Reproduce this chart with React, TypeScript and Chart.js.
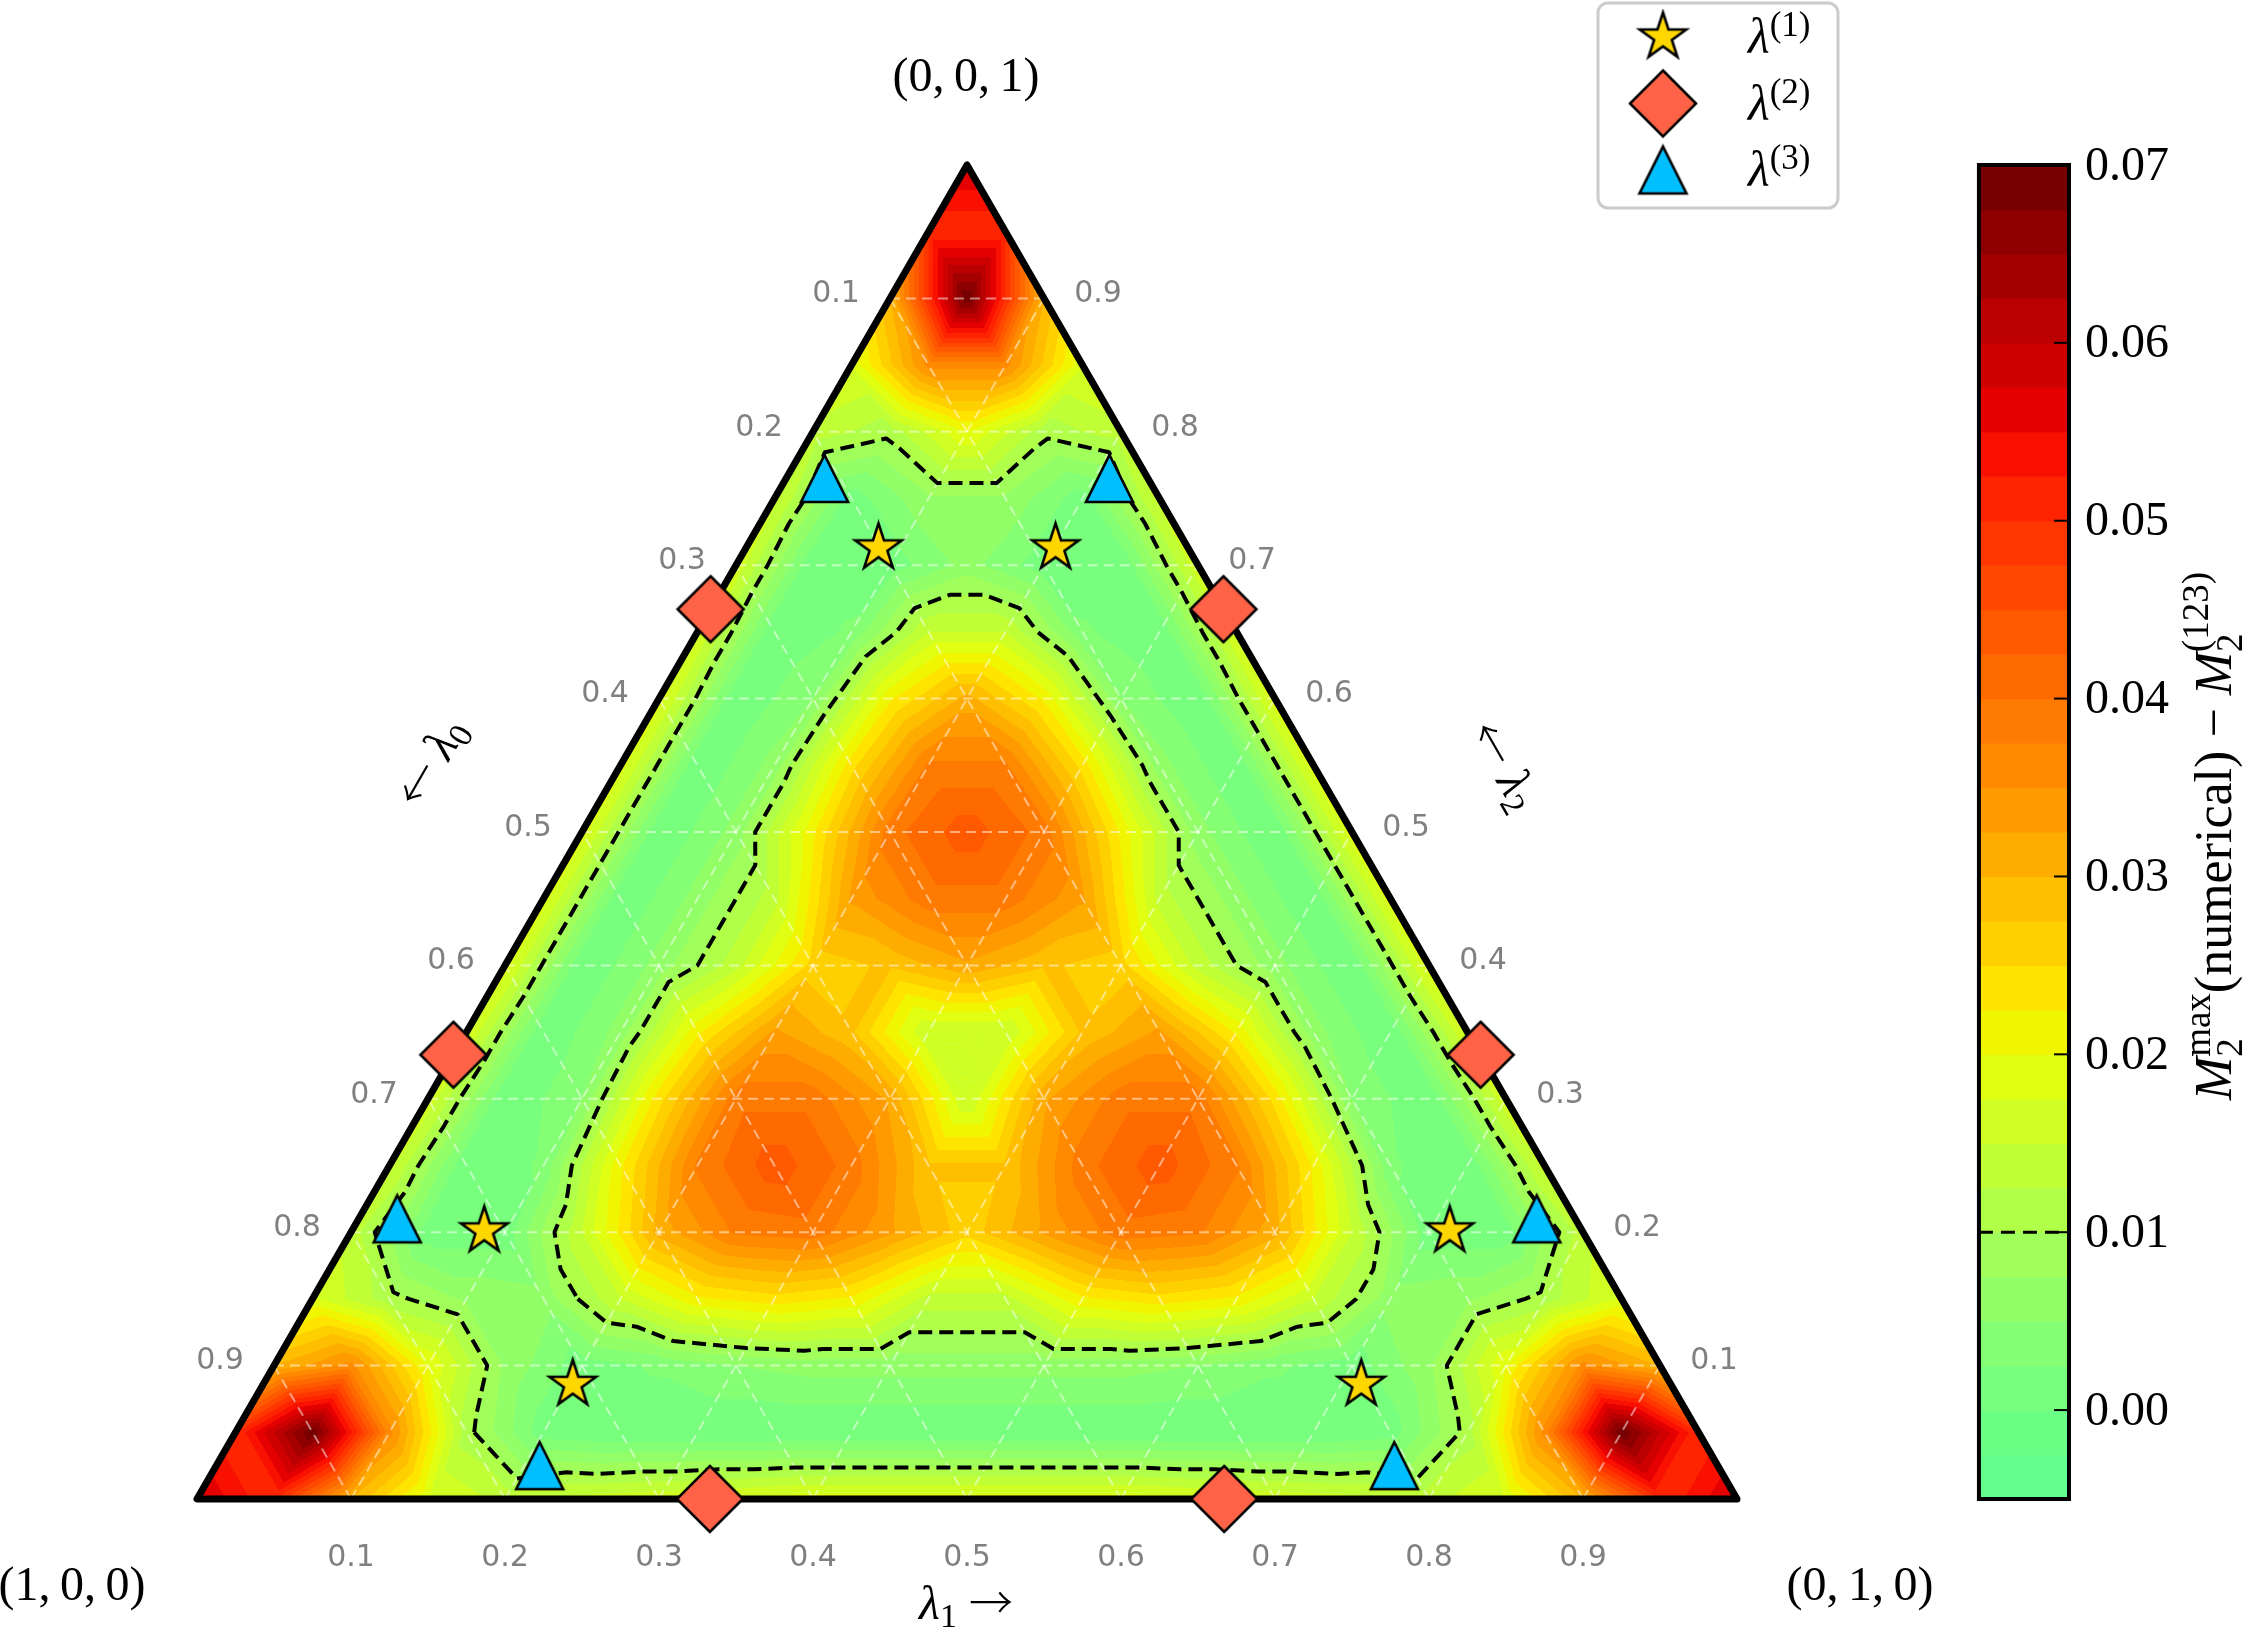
import { useEffect, useRef } from 'react';
import { Chart, registerables } from 'chart.js';

Chart.register(...registerables);

// ---------------- data ----------------
const H = Math.sqrt(3) / 2;
const N = 20; // grid divisions per triangle side

// Field values. Row i is lambda2 = i/N (bottom to top);
// entry j is lambda1 = j/N (left to right); lambda0 = 1 - lambda1 - lambda2.
const FIELD_ROWS: number[][] = [
  [0.058, 0.050, 0.030, 0.018, 0.014, 0.016, 0.017, 0.018, 0.019, 0.019, 0.019, 0.019, 0.019, 0.018, 0.017, 0.016, 0.014, 0.018, 0.030, 0.050, 0.058],
  [0.050, 0.070, 0.036, 0.011, 0.001, 0.000, 0.000, 0.000, 0.000, 0.000, 0.000, 0.000, 0.000, 0.000, 0.000, 0.001, 0.011, 0.036, 0.070, 0.050],
  [0.030, 0.036, 0.020, 0.007, 0.001, 0.003, 0.005, 0.006, 0.006, 0.006, 0.006, 0.006, 0.005, 0.003, 0.001, 0.007, 0.020, 0.036, 0.030],
  [0.018, 0.011, 0.007, 0.006, 0.015, 0.022, 0.024, 0.022, 0.014, 0.014, 0.022, 0.024, 0.022, 0.015, 0.006, 0.007, 0.011, 0.018],
  [0.014, 0.001, 0.001, 0.015, 0.031, 0.038, 0.039, 0.033, 0.026, 0.033, 0.039, 0.038, 0.031, 0.015, 0.001, 0.001, 0.014],
  [0.016, 0.000, 0.003, 0.022, 0.038, 0.044, 0.039, 0.028, 0.028, 0.039, 0.044, 0.038, 0.022, 0.003, 0.000, 0.016],
  [0.017, 0.000, 0.005, 0.024, 0.039, 0.039, 0.032, 0.015, 0.032, 0.039, 0.039, 0.024, 0.005, 0.000, 0.017],
  [0.018, 0.000, 0.006, 0.022, 0.033, 0.028, 0.015, 0.015, 0.028, 0.033, 0.022, 0.006, 0.000, 0.018],
  [0.019, 0.000, 0.006, 0.014, 0.026, 0.028, 0.032, 0.028, 0.026, 0.014, 0.006, 0.000, 0.019],
  [0.019, 0.000, 0.006, 0.014, 0.033, 0.039, 0.039, 0.033, 0.014, 0.006, 0.000, 0.019],
  [0.019, 0.000, 0.006, 0.022, 0.039, 0.044, 0.039, 0.022, 0.006, 0.000, 0.019],
  [0.019, 0.000, 0.006, 0.024, 0.038, 0.038, 0.024, 0.006, 0.000, 0.019],
  [0.019, 0.000, 0.005, 0.022, 0.031, 0.022, 0.005, 0.000, 0.019],
  [0.018, 0.000, 0.003, 0.015, 0.015, 0.003, 0.000, 0.018],
  [0.017, 0.000, 0.001, 0.006, 0.001, 0.000, 0.017],
  [0.016, 0.001, 0.007, 0.007, 0.001, 0.016],
  [0.014, 0.011, 0.020, 0.011, 0.014],
  [0.018, 0.036, 0.036, 0.018],
  [0.030, 0.070, 0.030],
  [0.050, 0.050],
  [0.058],
];

const LEVEL_MIN = -0.005;
const LEVEL_STEP = 0.0025;
const LEVEL_MAX = 0.07;
const BAND_COLORS = [
  '#62ff8e', '#6cff86', '#78ff7e', '#85ff73', '#92ff68', '#a0ff5a', '#b0ff48', '#c0ff36', '#d0ff24', '#e0ff12',
  '#f0f500', '#ffe400', '#ffd000', '#ffbe00', '#ffac00', '#ff9b00', '#ff8a00', '#ff7a00', '#ff6a00', '#ff5a00',
  '#ff4800', '#ff3600', '#ff2400', '#fa1000', '#e40000', '#ce0000', '#ba0000', '#a40000', '#8e0000', '#780000',
];
const CONTOUR_LEVEL = 0.01;

const CB_TICKS = [0, 0.01, 0.02, 0.03, 0.04, 0.05, 0.06, 0.07];
const CB_TICK_LABELS = ['0.00', '0.01', '0.02', '0.03', '0.04', '0.05', '0.06', '0.07'];

const GRID_TICKS = [0.1, 0.2, 0.3, 0.4, 0.5, 0.6, 0.7, 0.8, 0.9];
const GRID_TICK_LABELS = ['0.1', '0.2', '0.3', '0.4', '0.5', '0.6', '0.7', '0.8', '0.9'];

// markers (lambda0, lambda1, lambda2)
const STAR_L0 = [0.201, 0.086, 0.713, 0.713, 0.201, 0.086];
const STAR_L1 = [0.086, 0.201, 0.086, 0.201, 0.713, 0.713];
const STAR_L2 = [0.713, 0.713, 0.201, 0.086, 0.086, 0.201];

const DIAMOND_L0 = [0.333, 0.667, 0.667, 0.333, 0.0, 0.0];
const DIAMOND_L1 = [0.0, 0.0, 0.333, 0.667, 0.667, 0.333];
const DIAMOND_L2 = [0.667, 0.333, 0.0, 0.0, 0.333, 0.667];

const TRI_L0 = [0.21, 0.025, 0.765, 0.765, 0.21, 0.025];
const TRI_L1 = [0.025, 0.21, 0.025, 0.21, 0.765, 0.765];
const TRI_L2 = [0.765, 0.765, 0.21, 0.025, 0.025, 0.21];

const SERIES_LABELS = ['(1)', '(2)', '(3)'];

// ---------------- layout / style ----------------
const CHART_W = 2251;
const CHART_H = 1629;
const PAD = { left: 197, right: 182, top: 165, bottom: 130 };
const SIDE_PX = 1540;
const X_MAX = (CHART_W - PAD.left - PAD.right) / SIDE_PX;
const CB_X0 = 1.1571;

const RM = (s: number) => `${s}px 'Liberation Serif', 'DejaVu Serif', serif`;
const IT = (s: number) => `italic ${s}px 'Liberation Serif', 'DejaVu Serif', serif`;
const SANS = (s: number) => `${s}px 'DejaVu Sans', sans-serif`;
const ARROW = (s: number) => `300 ${s}px 'Noto Sans CJK JP', 'DejaVu Sans', sans-serif`;

const toXY = (l1: number, l2: number) => ({ x: l1 + l2 / 2, y: l2 * H });

function fieldAt(l1: number, l2: number): number {
  const u = l1 * N;
  const v = l2 * N;
  let i = Math.floor(v);
  if (i > N - 1) i = N - 1;
  if (i < 0) i = 0;
  const fv = v - i;
  let j = Math.floor(u);
  if (j > N - 1 - i) j = N - 1 - i;
  if (j < 0) j = 0;
  const fu = u - j;
  const r0 = FIELD_ROWS[i];
  const r1 = FIELD_ROWS[i + 1];
  if (fu + fv <= 1 || j + 1 > N - i - 1) {
    return (1 - fu - fv) * r0[j] + fu * r0[j + 1] + fv * r1[j];
  }
  return (1 - fv) * r0[j + 1] + (1 - fu) * r1[j] + (fu + fv - 1) * r1[j + 1];
}

function contourLines(level: number): { x: number; y: number }[][] {
  const pts = new Map<string, { x: number; y: number }>();
  const adj = new Map<string, string[]>();
  const V = (i: number, j: number) => FIELD_ROWS[i][j];
  const P = (i: number, j: number) => toXY(j / N, i / N);
  const cross = (a: [number, number], b: [number, number]): string | null => {
    const va = V(a[0], a[1]);
    const vb = V(b[0], b[1]);
    if ((va - level) * (vb - level) >= 0) return null;
    const ka = `${a[0]},${a[1]}`;
    const kb = `${b[0]},${b[1]}`;
    const key = ka < kb ? `${ka}|${kb}` : `${kb}|${ka}`;
    if (!pts.has(key)) {
      const t = (level - va) / (vb - va);
      const pa = P(a[0], a[1]);
      const pb = P(b[0], b[1]);
      pts.set(key, { x: pa.x + t * (pb.x - pa.x), y: pa.y + t * (pb.y - pa.y) });
      adj.set(key, []);
    }
    return key;
  };
  const tri = (a: [number, number], b: [number, number], c: [number, number]) => {
    const ks = [cross(a, b), cross(b, c), cross(c, a)].filter((k): k is string => k !== null);
    if (ks.length === 2) {
      adj.get(ks[0])!.push(ks[1]);
      adj.get(ks[1])!.push(ks[0]);
    }
  };
  for (let i = 0; i < N; i++) {
    for (let j = 0; j <= N - 1 - i; j++) {
      tri([i, j], [i, j + 1], [i + 1, j]);
      if (j <= N - 2 - i) tri([i, j + 1], [i + 1, j], [i + 1, j + 1]);
    }
  }
  const visited = new Set<string>();
  const lines: { x: number; y: number }[][] = [];
  const walk = (start: string) => {
    const line = [pts.get(start)!];
    visited.add(start);
    let prev = '';
    let cur = start;
    for (;;) {
      const nb = adj.get(cur)!.filter((n) => n !== prev && !visited.has(n));
      if (!nb.length) {
        if (adj.get(cur)!.includes(start) && prev !== start && line.length > 2) line.push(pts.get(start)!);
        break;
      }
      prev = cur;
      cur = nb[0];
      visited.add(cur);
      line.push(pts.get(cur)!);
    }
    lines.push(line);
  };
  for (const [k, n] of adj) if (n.length === 1 && !visited.has(k)) walk(k);
  for (const k of adj.keys()) if (!visited.has(k)) walk(k);
  return lines;
}

type RichPart = { t: string; font: string; dy?: number } | { stack: { t: string; font: string; dy: number }[] };

function richWidth(ctx: CanvasRenderingContext2D, parts: RichPart[]) {
  let w = 0;
  for (const p of parts) {
    if ('stack' in p) {
      let m = 0;
      for (const s of p.stack) {
        ctx.font = s.font;
        m = Math.max(m, ctx.measureText(s.t).width);
      }
      w += m;
    } else {
      ctx.font = p.font;
      w += ctx.measureText(p.t).width;
    }
  }
  return w;
}

function drawRich(ctx: CanvasRenderingContext2D, parts: RichPart[], x: number, y: number, align: 'left' | 'center') {
  let cx = align === 'center' ? x - richWidth(ctx, parts) / 2 : x;
  ctx.textAlign = 'left';
  ctx.textBaseline = 'alphabetic';
  for (const p of parts) {
    if ('stack' in p) {
      let m = 0;
      for (const s of p.stack) {
        ctx.font = s.font;
        ctx.fillText(s.t, cx, y + s.dy);
        m = Math.max(m, ctx.measureText(s.t).width);
      }
      cx += m;
    } else {
      ctx.font = p.font;
      ctx.fillText(p.t, cx, y + (p.dy || 0));
      cx += ctx.measureText(p.t).width;
    }
  }
}

function makeMarker(kind: 'star' | 'diamond' | 'triangle', fill: string, size: number): HTMLCanvasElement {
  const c = document.createElement('canvas');
  const dim = Math.ceil(2 * size + 8);
  c.width = dim;
  c.height = dim;
  const g = c.getContext('2d')!;
  g.translate(dim / 2, dim / 2);
  g.beginPath();
  if (kind === 'star') {
    for (let k = 0; k < 10; k++) {
      const r = k % 2 ? size * 0.382 : size;
      const a = -Math.PI / 2 + (k * Math.PI) / 5;
      if (k === 0) g.moveTo(r * Math.cos(a), r * Math.sin(a));
      else g.lineTo(r * Math.cos(a), r * Math.sin(a));
    }
  } else if (kind === 'diamond') {
    g.moveTo(0, -size);
    g.lineTo(size, 0);
    g.lineTo(0, size);
    g.lineTo(-size, 0);
  } else {
    g.moveTo(0, -size);
    g.lineTo(size, size);
    g.lineTo(-size, size);
  }
  g.closePath();
  g.fillStyle = fill;
  g.fill();
  g.lineWidth = 2.6;
  g.lineJoin = 'miter';
  g.strokeStyle = '#000';
  g.stroke();
  return c;
}

const hexRgb = (h: string) => [parseInt(h.slice(1, 3), 16), parseInt(h.slice(3, 5), 16), parseInt(h.slice(5, 7), 16)];

const ternaryPlugin = {
  id: 'ternaryField',
  beforeDatasetsDraw(chart: any) {
    const ctx: CanvasRenderingContext2D = chart.ctx;
    const xs = chart.scales.x;
    const ys = chart.scales.y;
    const cb = chart.scales.cb;
    const px = (l1: number, l2: number): [number, number] => {
      const p = toXY(l1, l2);
      return [xs.getPixelForValue(p.x), ys.getPixelForValue(p.y)];
    };
    const A = px(0, 0);
    const B = px(1, 0);
    const C = px(0, 1);

    // ---- filled field ----
    const x0 = Math.floor(A[0]);
    const x1 = Math.ceil(B[0]);
    const y0 = Math.floor(C[1]);
    const y1 = Math.ceil(A[1]);
    const w = x1 - x0;
    const h = y1 - y0;
    const off = document.createElement('canvas');
    off.width = w;
    off.height = h;
    const octx = off.getContext('2d')!;
    const img = octx.createImageData(w, h);
    const rgb = BAND_COLORS.map(hexRgb);
    const xVals = new Float64Array(w);
    for (let q = 0; q < w; q++) xVals[q] = xs.getValueForPixel(x0 + q + 0.5);
    for (let r = 0; r < h; r++) {
      const l2 = ys.getValueForPixel(y0 + r + 0.5) / H;
      if (l2 < -0.002 || l2 > 1) continue;
      const l2c = Math.max(0, l2);
      for (let q = 0; q < w; q++) {
        const l1 = xVals[q] - l2c / 2;
        const l0 = 1 - l1 - l2c;
        if (l1 < -0.002 || l0 < -0.002) continue;
        const v = fieldAt(Math.max(0, Math.min(1 - l2c, l1)), l2c);
        let b = Math.floor((v - LEVEL_MIN) / LEVEL_STEP);
        if (b < 0) b = 0;
        if (b > BAND_COLORS.length - 1) b = BAND_COLORS.length - 1;
        const o = (r * w + q) * 4;
        img.data[o] = rgb[b][0];
        img.data[o + 1] = rgb[b][1];
        img.data[o + 2] = rgb[b][2];
        img.data[o + 3] = 255;
      }
    }
    octx.putImageData(img, 0, 0);
    ctx.drawImage(off, x0, y0);

    // ---- grid lines ----
    ctx.save();
    ctx.strokeStyle = 'rgba(255,255,255,0.5)';
    ctx.lineWidth = 2;
    ctx.setLineDash([10, 6]);
    const seg = (p: [number, number], q: [number, number]) => {
      ctx.beginPath();
      ctx.moveTo(p[0], p[1]);
      ctx.lineTo(q[0], q[1]);
      ctx.stroke();
    };
    for (const t of GRID_TICKS) {
      seg(px(0, t), px(1 - t, t));
      seg(px(t, 0), px(t, 1 - t));
      seg(px(1 - t, 0), px(0, 1 - t));
    }
    ctx.restore();

    // ---- contour line ----
    ctx.save();
    ctx.strokeStyle = '#000';
    ctx.lineWidth = 4;
    ctx.setLineDash([14, 7]);
    ctx.lineJoin = 'round';
    for (const line of contourLines(CONTOUR_LEVEL)) {
      ctx.beginPath();
      line.forEach((p, k) => {
        const X = xs.getPixelForValue(p.x);
        const Y = ys.getPixelForValue(p.y);
        if (k === 0) ctx.moveTo(X, Y);
        else ctx.lineTo(X, Y);
      });
      ctx.stroke();
    }
    ctx.restore();

    // ---- triangle border ----
    ctx.save();
    ctx.strokeStyle = '#000';
    ctx.lineWidth = 7;
    ctx.lineJoin = 'round';
    ctx.beginPath();
    ctx.moveTo(A[0], A[1]);
    ctx.lineTo(B[0], B[1]);
    ctx.lineTo(C[0], C[1]);
    ctx.closePath();
    ctx.stroke();
    ctx.restore();

    // ---- grid tick labels ----
    ctx.save();
    ctx.fillStyle = '#808080';
    ctx.font = SANS(30);
    ctx.textAlign = 'center';
    ctx.textBaseline = 'middle';
    GRID_TICKS.forEach((t, k) => {
      const b = px(t, 0);
      ctx.fillText(GRID_TICK_LABELS[k], b[0], b[1] + 59);
      const l = px(0, 1 - t);
      ctx.fillText(GRID_TICK_LABELS[k], l[0] - 54, l[1] - 4);
      const rr = px(1 - t, t);
      ctx.fillText(GRID_TICK_LABELS[k], rr[0] + 54, rr[1] - 4);
    });
    ctx.restore();

    // ---- colour bar ----
    const cx0 = xs.getPixelForValue(CB_X0);
    const cx1 = chart.chartArea.right;
    ctx.save();
    BAND_COLORS.forEach((col, k) => {
      const v0 = LEVEL_MIN + k * LEVEL_STEP;
      const yTop = cb.getPixelForValue(v0 + LEVEL_STEP);
      const yBot = cb.getPixelForValue(v0);
      ctx.fillStyle = col;
      ctx.fillRect(cx0, yTop, cx1 - cx0, yBot - yTop + 0.6);
    });
    ctx.strokeStyle = '#000';
    ctx.lineWidth = 2;
    CB_TICKS.forEach((v) => {
      const y = cb.getPixelForValue(v);
      ctx.beginPath();
      ctx.moveTo(cx1 - 15, y);
      ctx.lineTo(cx1, y);
      ctx.stroke();
    });
    ctx.lineWidth = 3;
    ctx.setLineDash([14, 8]);
    const yc = cb.getPixelForValue(CONTOUR_LEVEL);
    ctx.beginPath();
    ctx.moveTo(cx0, yc);
    ctx.lineTo(cx1, yc);
    ctx.stroke();
    ctx.setLineDash([]);
    ctx.lineWidth = 4;
    const yT = cb.getPixelForValue(LEVEL_MAX);
    const yB = cb.getPixelForValue(LEVEL_MIN);
    ctx.strokeRect(cx0, yT, cx1 - cx0, yB - yT);
    ctx.fillStyle = '#000';
    ctx.font = RM(48);
    ctx.textAlign = 'left';
    ctx.textBaseline = 'middle';
    CB_TICKS.forEach((v, k) => ctx.fillText(CB_TICK_LABELS[k], cx1 + 16, cb.getPixelForValue(v) + 2));
    ctx.restore();
  },
  afterDraw(chart: any) {
    const ctx: CanvasRenderingContext2D = chart.ctx;
    ctx.save();
    ctx.fillStyle = '#000';
    // corner labels
    drawRich(ctx, [{ t: '(0,\u20090,\u20091)', font: RM(48) }], 966, 91, 'center');
    drawRich(ctx, [{ t: '(1,\u20090,\u20090)', font: RM(48) }], 72, 1600, 'center');
    drawRich(ctx, [{ t: '(0,\u20091,\u20090)', font: RM(48) }], 1860, 1600, 'center');
    // axis labels
    drawRich(
      ctx,
      [{ t: '\u03bb', font: IT(48) }, { t: '1', font: RM(34), dy: 8 }, { t: ' ', font: RM(48) }, { t: '\u2192', font: ARROW(44), dy: 0 }],
      966,
      1619,
      'center'
    );
    ctx.save();
    ctx.translate(432, 763);
    ctx.rotate(-Math.PI / 3);
    drawRich(
      ctx,
      [{ t: '\u2190', font: ARROW(44), dy: 0 }, { t: ' ', font: RM(48) }, { t: '\u03bb', font: IT(48) }, { t: '0', font: RM(34), dy: 8 }],
      0,
      14,
      'center'
    );
    ctx.restore();
    ctx.save();
    ctx.translate(1503, 766);
    ctx.rotate(Math.PI / 3);
    drawRich(
      ctx,
      [{ t: '\u2190', font: ARROW(44), dy: 0 }, { t: ' ', font: RM(48) }, { t: '\u03bb', font: IT(48) }, { t: '2', font: RM(34), dy: 8 }],
      0,
      14,
      'center'
    );
    ctx.restore();
    // colour bar label
    ctx.save();
    ctx.translate(2231, 836);
    ctx.rotate(-Math.PI / 2);
    drawRich(
      ctx,
      [
        { t: 'M', font: IT(52) },
        { stack: [{ t: 'max', font: RM(37), dy: -21 }, { t: '2', font: RM(37), dy: 11 }] },
        { t: '(numerical)', font: RM(52) },
        { t: ' \u2212 ', font: RM(52) },
        { t: 'M', font: IT(52) },
        { stack: [{ t: '(123)', font: RM(37), dy: -23 }, { t: '2', font: RM(37), dy: 11 }] },
      ],
      0,
      0,
      'center'
    );
    ctx.restore();
    // legend
    const bx = 1598, by = 3, bw = 240, bh = 205, rad = 10;
    ctx.beginPath();
    ctx.moveTo(bx + rad, by);
    ctx.lineTo(bx + bw - rad, by);
    ctx.arcTo(bx + bw, by, bx + bw, by + rad, rad);
    ctx.lineTo(bx + bw, by + bh - rad);
    ctx.arcTo(bx + bw, by + bh, bx + bw - rad, by + bh, rad);
    ctx.lineTo(bx + rad, by + bh);
    ctx.arcTo(bx, by + bh, bx, by + bh - rad, rad);
    ctx.lineTo(bx, by + rad);
    ctx.arcTo(bx, by, bx + rad, by, rad);
    ctx.closePath();
    ctx.fillStyle = 'rgba(255,255,255,0.85)';
    ctx.fill();
    ctx.strokeStyle = '#cccccc';
    ctx.lineWidth = 3;
    ctx.stroke();
    chart.data.datasets.forEach((ds: any, k: number) => {
      const yk = 37 + 66.5 * k;
      const im: HTMLCanvasElement = ds.pointStyle;
      ctx.drawImage(im, 1663 - im.width / 2, yk - im.height / 2);
      ctx.fillStyle = '#000';
      drawRich(ctx, [{ t: '\u03bb', font: IT(50) }, { t: SERIES_LABELS[k], font: RM(35), dy: -17 }], 1748, yk + 16, 'left');
    });
    ctx.restore();
  },
};

export default function App() {
  const ref = useRef<HTMLCanvasElement | null>(null);
  useEffect(() => {
    const canvas = ref.current;
    if (!canvas) return;
    const starImg = makeMarker('star', '#ffd700', 24.5);
    const diamondImg = makeMarker('diamond', '#ff6347', 33);
    const triImg = makeMarker('triangle', '#00bfff', 23.5);
    const chart = new Chart(canvas, {
      type: 'scatter',
      data: {
        datasets: [
          {
            label: '\u03bb(1)',
            data: STAR_L1.map((l1, k) => toXY(l1, STAR_L2[k])),
            pointStyle: starImg,
            pointRadius: 25,
            clip: false,
          } as any,
          {
            label: '\u03bb(2)',
            data: DIAMOND_L1.map((l1, k) => toXY(l1, DIAMOND_L2[k])),
            pointStyle: diamondImg,
            pointRadius: 33,
            clip: false,
          } as any,
          {
            label: '\u03bb(3)',
            data: TRI_L1.map((l1, k) => toXY(l1, TRI_L2[k])),
            pointStyle: triImg,
            pointRadius: 24,
            clip: false,
          } as any,
        ],
      },
      options: {
        responsive: false,
        maintainAspectRatio: false,
        animation: false,
        devicePixelRatio: 1,
        events: [],
        layout: { padding: PAD },
        plugins: { legend: { display: false }, tooltip: { enabled: false } },
        scales: {
          x: { type: 'linear', min: 0, max: X_MAX, display: false, bounds: 'data' },
          y: { type: 'linear', min: 0, max: H, display: false, bounds: 'data' },
          cb: { type: 'linear', axis: 'y', position: 'right', min: LEVEL_MIN, max: LEVEL_MAX, display: false },
        },
      } as any,
      plugins: [ternaryPlugin],
    });
    void [STAR_L0, DIAMOND_L0, TRI_L0];
    return () => chart.destroy();
  }, []);
  return (
    <div style={{ position: 'absolute', left: 0, top: 0, width: CHART_W, height: CHART_H, background: '#fff' }}>
      <canvas ref={ref} width={CHART_W} height={CHART_H} style={{ width: CHART_W, height: CHART_H, display: 'block' }} />
    </div>
  );
}
